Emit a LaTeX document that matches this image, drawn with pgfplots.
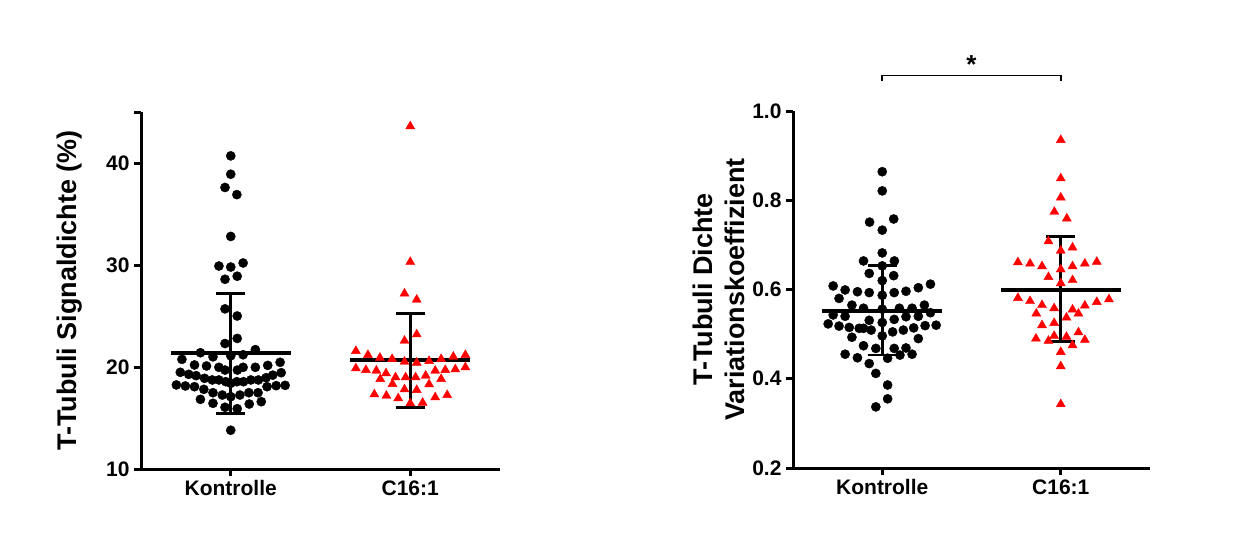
\documentclass[border=0pt]{standalone}
\usepackage{fontspec}
\setmainfont{Liberation Sans}
\usepackage{pgfplots}
\usepackage{pgfplotstable}
\pgfplotsset{compat=1.18}

\pgfplotstableread{
x y
0 40.7
0 38.9
-0.032 37.6
0.034 36.9
0 32.8
-0.066 29.9
0 29.8
0.069 30.2
-0.032 28.6
0.036 28.9
-0.032 25.7
0.036 25.0
-0.032 22.3
0.036 22.8
-0.169 21.4
-0.099 21.0
0 21.1
0.069 21.2
0.137 21.7
-0.272 20.75
-0.202 20.2
-0.135 20.1
-0.066 19.97
-0.032 19.7
0.037 19.7
0.069 19.97
0.137 19.97
0.206 20.16
0.275 20.46
-0.281 19.48
-0.234 19.28
-0.193 19.15
-0.146 18.89
-0.103 18.73
-0.066 18.73
-0.028 18.56
0 18.4
0.034 18.56
0.071 18.56
0.112 18.73
0.154 18.73
0.197 18.95
0.234 19.2
0.281 19.44
-0.303 18.24
-0.253 18.14
-0.202 18.07
-0.150 17.81
-0.099 17.48
-0.047 17.25
0 17.09
0.051 17.25
0.101 17.48
0.152 17.48
0.202 18.07
0.253 18.17
0.303 18.2
-0.169 16.83
-0.099 16.44
-0.032 16.05
0.036 15.91
0.103 16.37
0.170 16.6
0 13.8
}\lkon

\pgfplotstableread{
x y
1 43.6
1 30.3
0.968 27.2
1.036 26.6
0.968 22.58
1.036 23.2
0.697 21.57
0.764 21.18
0.831 20.91
0.899 20.78
0.968 20.52
1.036 20.42
1.105 20.59
1.172 20.78
1.240 21.01
1.307 21.18
0.697 19.87
0.753 19.71
0.811 19.64
0.865 19.38
1.139 19.64
1.195 19.71
1.251 19.77
1.307 19.97
0.833 18.82
0.918 18.99
0.974 18.99
1.030 18.99
1.086 19.15
1.172 18.82
0.901 18.33
0.968 17.81
1.036 17.75
1.105 18.3
0.800 17.32
0.867 17.19
0.933 16.93
1 16.44
1.069 16.5
1.139 17.03
1.206 17.25
}\lcsix

\pgfplotstableread{
x y
0 0.864
0 0.821
-0.071 0.751
0.064 0.758
0 0.733
0 0.682
-0.105 0.664
0.068 0.664
0 0.653
-0.073 0.636
0.064 0.631
0 0.620
-0.275 0.608
-0.208 0.599
-0.242 0.580
-0.139 0.595
-0.073 0.593
0 0.587
0.067 0.593
0.133 0.596
0.202 0.604
0.270 0.612
-0.170 0.565
-0.105 0.558
-0.275 0.543
-0.208 0.540
0 0.556
0.096 0.558
0.167 0.558
0.236 0.565
0.270 0.548
-0.303 0.523
-0.242 0.518
-0.185 0.515
-0.129 0.513
-0.073 0.531
0 0.526
0.067 0.533
0.133 0.539
0.202 0.540
0.302 0.520
0.240 0.519
-0.170 0.493
-0.105 0.513
-0.062 0.509
0 0.496
0.058 0.505
0.118 0.509
0.176 0.514
-0.105 0.474
-0.036 0.468
0.067 0.468
0.133 0.469
0.202 0.490
-0.208 0.455
-0.139 0.447
0.030 0.446
0.099 0.453
0.167 0.455
-0.073 0.434
-0.036 0.412
0.030 0.386
0.030 0.355
-0.036 0.337
}\rkon

\pgfplotstableread{
x y
1 0.935
1 0.849
1 0.806
0.964 0.774
1.034 0.759
0.931 0.708
1 0.687
1.066 0.694
0.760 0.661
0.828 0.658
0.895 0.652
1 0.645
1.066 0.652
1.135 0.658
1.202 0.662
0.931 0.628
1 0.614
1.066 0.621
0.760 0.581
0.828 0.574
0.895 0.565
0.963 0.558
1.066 0.555
1.135 0.564
1.202 0.572
1.270 0.578
0.863 0.546
1.032 0.537
1.099 0.546
0.963 0.525
0.895 0.520
1.099 0.504
0.861 0.490
0.931 0.485
0.963 0.496
1.032 0.494
1.135 0.487
1.066 0.475
1 0.460
1 0.428
1 0.343
}\rcsix

\definecolor{tred}{RGB}{255,0,0}

\pgfplotsset{
  dotstyle/.style={
    scale only axis, anchor=south west,
    xmin=-0.5, xmax=1.5,
    axis x line=bottom, axis y line=left,
    axis line style={line width=3pt, -},
    xtick={0,1}, xticklabels={Kontrolle, C16:1},
    tick align=outside, major tick length=7pt,
    tick style={line width=3pt, black},
    /pgf/number format/assume math mode=true,
    ticklabel style={font=\bfseries\fontsize{21}{24}\selectfont},
    xticklabel style={yshift=-1pt},
    yticklabel style={xshift=-1pt},
    ylabel style={font=\bfseries\fontsize{27}{32}\selectfont, inner sep=0pt, anchor=south},
    clip=false,
  },
  kon/.style={only marks, mark=*, mark size=4.6pt, black, mark options={draw=none, fill=black}},
  csix/.style={only marks, mark=triangle*, mark size=5.2pt, tred, mark options={draw=none, fill=tred}},
  mline/.style={black, line width=4pt, no marks},
  sline/.style={black, line width=2.8pt, no marks},
}

\begin{document}
\begin{tikzpicture}
\path[use as bounding box] (0pt,0pt) rectangle (1239pt,541pt);

\begin{axis}[dotstyle,
  at={(141pt,72pt)}, width=359pt, height=357pt,
  ymin=10, ymax=45,
  ytick={10,20,30,40}, extra y ticks={45}, extra y tick labels={},
  ylabel={T-Tubuli Signaldichte (\%)},
  ylabel style={at={(axis description cs:-0.162,0.5)}},
]
\addplot[kon] table[x=x, y=y] {\lkon};
\addplot[csix] table[x=x, y=y] {\lcsix};
% Kontrolle mean and SD
\addplot[mline] coordinates {(-0.335,21.34) (0.335,21.34)};
\addplot[sline] coordinates {(0,15.46) (0,27.2)};
\addplot[sline] coordinates {(-0.082,27.2) (0.082,27.2)};
\addplot[sline] coordinates {(-0.082,15.46) (0.082,15.46)};
% C16:1 mean and SD
\addplot[mline] coordinates {(0.665,20.64) (1.335,20.64)};
\addplot[sline] coordinates {(1,16.05) (1,25.26)};
\addplot[sline] coordinates {(0.918,25.26) (1.082,25.26)};
\addplot[sline] coordinates {(0.918,16.05) (1.082,16.05)};
\end{axis}

\begin{axis}[dotstyle,
  at={(793pt,73pt)}, width=357pt, height=357pt,
  ymin=0.2, ymax=1.0,
  ytick={0.2,0.4,0.6,0.8,1.0},
  yticklabel style={/pgf/number format/.cd, fixed, fixed zerofill, precision=1},
  ylabel={T-Tubuli Dichte\\Variationskoeffizient},
  ylabel style={align=center, at={(axis description cs:-0.134,0.5)}},
]
\addplot[kon] table[x=x, y=y] {\rkon};
\addplot[csix] table[x=x, y=y] {\rcsix};
\addplot[mline] coordinates {(-0.335,0.552) (0.335,0.552)};
\addplot[sline] coordinates {(0,0.453) (0,0.653)};
\addplot[sline] coordinates {(-0.082,0.653) (0.082,0.653)};
\addplot[sline] coordinates {(-0.082,0.453) (0.082,0.453)};
\addplot[mline] coordinates {(0.665,0.600) (1.335,0.600)};
\addplot[sline] coordinates {(1,0.483) (1,0.718)};
\addplot[sline] coordinates {(0.918,0.718) (1.082,0.718)};
\addplot[sline] coordinates {(0.918,0.483) (1.082,0.483)};
\draw[line width=1.6pt] (axis cs:0,1.068) -- (axis cs:0,1.080) -- (axis cs:1,1.080) -- (axis cs:1,1.068);
\node[anchor=base, font=\bfseries\fontsize{26}{28}\selectfont] at (axis cs:0.5,1.083) {*};
\end{axis}
\end{tikzpicture}
\end{document}
